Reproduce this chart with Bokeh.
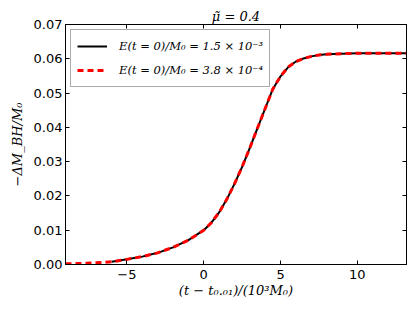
from bokeh.plotting import figure
from bokeh.models import (Range1d, LinearAxis, FixedTicker, NumeralTickFormatter,
                          CustomJSTickFormatter, Legend, LegendItem, Title)
from bokeh.embed import file_html
from bokeh.resources import INLINE

# black: E(t=0)/M0 = 1.5e-3
t_a = [-6, -5, -4, -3, -2, -1, 0, 0.5, 1, 1.5, 2, 2.5, 3, 3.5, 4, 4.5, 5, 5.5,
       6, 6.5, 7, 7.5, 8, 9, 10, 11, 12, 13.2]
v_a = [0.0008, 0.0015, 0.0023, 0.0034, 0.0050, 0.0071, 0.0100, 0.0122, 0.0152,
       0.0190, 0.0235, 0.0285, 0.0340, 0.0398, 0.0455, 0.0512, 0.0549, 0.0576,
       0.0592, 0.0601, 0.0607, 0.0611, 0.0613, 0.0615, 0.0616, 0.0616, 0.0616, 0.0616]
# red dashed: E(t=0)/M0 = 3.8e-4
t_b = [-9, -8, -7, -6, -5, -4, -3, -2, -1, 0, 0.5, 1, 1.5, 2, 2.5, 3, 3.5, 4,
       4.5, 5, 5.5, 6, 6.5, 7, 7.5, 8, 9, 10, 11, 12, 13.2]
v_b = [0.0002, 0.0003, 0.0005, 0.0008, 0.0015, 0.0023, 0.0034, 0.0050, 0.0071,
       0.0100, 0.0122, 0.0152, 0.0190, 0.0235, 0.0285, 0.0340, 0.0398, 0.0455,
       0.0512, 0.0549, 0.0576, 0.0592, 0.0601, 0.0607, 0.0611, 0.0613, 0.0615,
       0.0616, 0.0616, 0.0616, 0.0616]
x_ticks = [-5, 0, 5, 10]
y_ticks = [0.0, 0.01, 0.02, 0.03, 0.04, 0.05, 0.06, 0.07]
label_a = "E(t = 0)/M\u2080 = 1.5 \u00d7 10\u207b\u00b3"
label_b = "E(t = 0)/M\u2080 = 3.8 \u00d7 10\u207b\u2074"
title_text = "\u03bc\u0303 = 0.4"
x_label = "(t \u2212 t\u2080.\u2080\u2081)/(10\u00b3M\u2080)"
y_label = "\u2212\u0394M_BH/M\u2080"

mathfont = "DejaVu Serif"

p = figure(width=407, height=304, output_backend="svg", toolbar_location=None,
           x_range=Range1d(-9.0, 13.2), y_range=Range1d(0.0, 0.07),
           min_border_left=65, min_border_right=1, min_border_top=24,
           min_border_bottom=40)
p.title = Title(text=title_text, align="center", text_font=mathfont,
                text_font_style="italic", text_font_size="13px", standoff=2,
                text_color="black")
p.grid.visible = False
p.outline_line_color = "black"
p.outline_line_width = 1
p.background_fill_color = "white"
p.border_fill_color = "white"

for ax in [p.xaxis[0], p.yaxis[0]]:
    ax.major_tick_in = 4
    ax.major_tick_out = 0
    ax.minor_tick_in = 0
    ax.minor_tick_out = 0
    ax.axis_line_color = "black"
    ax.major_tick_line_color = "black"
    ax.major_label_text_font = "DejaVu Sans"
    ax.major_label_text_font_size = "13px"
    ax.major_label_text_color = "black"
    ax.axis_label_text_font = mathfont
    ax.axis_label_text_font_style = "italic"
    ax.axis_label_text_font_size = "13px"
    ax.axis_label_text_color = "black"

p.xaxis[0].ticker = FixedTicker(ticks=x_ticks)
p.xaxis[0].formatter = CustomJSTickFormatter(
    code="return tick < 0 ? '\\u2212' + Math.abs(tick) : String(tick);")
p.xaxis[0].axis_label = x_label
p.xaxis[0].major_label_standoff = 5
p.xaxis[0].axis_label_standoff = 1

p.yaxis[0].ticker = FixedTicker(ticks=y_ticks)
p.yaxis[0].formatter = NumeralTickFormatter(format="0.00")
p.yaxis[0].axis_label = y_label
p.yaxis[0].major_label_standoff = 3
p.yaxis[0].axis_label_standoff = 6

blank = CustomJSTickFormatter(code="return '';")
top = LinearAxis(ticker=FixedTicker(ticks=x_ticks), formatter=blank,
                 major_tick_in=4, major_tick_out=0, minor_tick_in=0, minor_tick_out=0,
                 axis_line_color="black", major_label_standoff=0)
right = LinearAxis(ticker=FixedTicker(ticks=y_ticks), formatter=blank,
                   major_tick_in=4, major_tick_out=0, minor_tick_in=0, minor_tick_out=0,
                   axis_line_color="black", major_label_standoff=0)
p.add_layout(top, "above")
p.add_layout(right, "right")

r_a = p.line(t_a, v_a, line_color="black", line_width=2)
r_b = p.line(t_b, v_b, line_color="red", line_width=3, line_dash="6 4")

legend = Legend(items=[LegendItem(label=label_a, renderers=[r_a]),
                       LegendItem(label=label_b, renderers=[r_b])],
                location="top_left", label_text_font=mathfont,
                label_text_font_style="italic", label_text_font_size="11.5px",
                label_text_color="black",
                border_line_color="#555555", border_line_width=1,
                margin=5, padding=6, spacing=4, glyph_width=30,
                label_standoff=12, background_fill_alpha=1.0)
p.add_layout(legend, "center")

open("out.html", "w").write(file_html(p, INLINE))
